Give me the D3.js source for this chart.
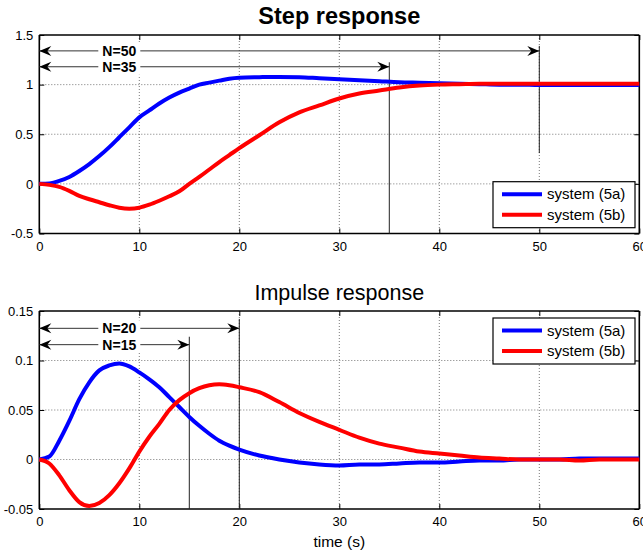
<!DOCTYPE html>
<html><head><meta charset="utf-8">
<script src="https://cdn.jsdelivr.net/npm/d3@7"></script>
<style>body{margin:0;background:#fff}svg{display:block;font-family:"Liberation Sans",Arial,sans-serif}</style>
</head><body><div id="chart"></div>
<script>
// ---- data ----
const stepT = [0,1,2,3,4,5,6,7,8,9,10,11,12,13,14,15,16,17,18,19,20,22,24,26,28,30,32,34,36,38,40,42,44,46,48,50,55,60];
const stepA = [0,0.005,0.03,0.07,0.13,0.2,0.28,0.37,0.47,0.57,0.67,0.74,0.81,0.87,0.92,0.96,1.0,1.02,1.04,1.06,1.07,1.075,1.078,1.075,1.065,1.055,1.045,1.035,1.025,1.02,1.015,1.01,1.005,1.0,1.0,0.995,0.995,0.995];
const stepB = [0,-0.01,-0.03,-0.07,-0.12,-0.155,-0.185,-0.215,-0.24,-0.25,-0.24,-0.21,-0.17,-0.125,-0.075,0.0,0.07,0.145,0.22,0.29,0.36,0.49,0.62,0.72,0.79,0.86,0.91,0.94,0.97,0.99,1.0,1.005,1.01,1.01,1.01,1.01,1.01,1.01];
const impT = [0,1,2,3,4,5,6,7,8,9,10,11,12,13,14,15,16,17,18,19,20,22,24,26,28,30,32,34,36,38,40,42,44,46,48,50,52,54,56,58,60];
const impA = [0,0.003,0.019,0.039,0.061,0.078,0.09,0.095,0.097,0.094,0.088,0.081,0.073,0.063,0.053,0.043,0.034,0.026,0.019,0.014,0.01,0.004,0.0,-0.003,-0.005,-0.006,-0.005,-0.005,-0.004,-0.003,-0.003,-0.002,-0.001,-0.001,0,0,0,0.001,0.001,0.001,0.001];
const impB = [0,-0.004,-0.016,-0.031,-0.043,-0.047,-0.044,-0.036,-0.024,-0.009,0.008,0.023,0.036,0.05,0.06,0.067,0.072,0.075,0.076,0.075,0.073,0.068,0.058,0.047,0.038,0.03,0.022,0.016,0.012,0.008,0.006,0.004,0.002,0.001,0,0,0,-0.001,0,0,0];
const seriesNames = ["system (5a)", "system (5b)"];
const seriesColors = ["#0000ff", "#ff0000"];
const xTicks = [0,10,20,30,40,50,60];
const stepYTicks = [-0.5,0,0.5,1,1.5];
const impYTicks = [-0.05,0,0.05,0.1,0.15];
const stepMarks = [{label:"N=50", n:50, y:1.34, top:1.39, bottom:0.31},{label:"N=35", n:35, y:1.18, top:1.225, bottom:-0.5}];
const impMarks = [{label:"N=20", n:20, y:0.1325, top:0.142, bottom:-0.05},{label:"N=15", n:15, y:0.116, top:0.124, bottom:-0.05}];

const W = 643, H = 554;
const svg = d3.select("#chart").append("svg").attr("width", W).attr("height", H);

function panel(opts){
  const {top, bottom, yDomain, yTicks, t, a, b, title, bold, titleY, titleSize, marks, legendY, xlabel} = opts;
  const x = d3.scaleLinear().domain([0,60]).range([39.3, 639.3]);
  const y = d3.scaleLinear().domain(yDomain).range([bottom, top]);
  const g = svg.append("g");
  // grid
  g.append("g").selectAll("line").data(xTicks.slice(1,-1)).join("line")
    .attr("x1", d=>x(d)).attr("x2", d=>x(d)).attr("y1", top).attr("y2", bottom)
    .attr("stroke","#555").attr("stroke-width",0.8).attr("stroke-dasharray","1,2");
  g.append("g").selectAll("line").data(yTicks.slice(1,-1)).join("line")
    .attr("y1", d=>y(d)).attr("y2", d=>y(d)).attr("x1", x(0)).attr("x2", x(60))
    .attr("stroke","#555").attr("stroke-width",0.8).attr("stroke-dasharray","1,2");
  // axes
  const ax = d3.axisBottom(x).tickValues(xTicks).tickSize(-5).tickPadding(8).tickFormat(d3.format("d"));
  const axT = d3.axisTop(x).tickValues(xTicks).tickSize(-5).tickFormat("");
  const ay = d3.axisLeft(y).tickValues(yTicks).tickSize(-5).tickPadding(6).tickFormat(d=>String(d));
  const ayR = d3.axisRight(y).tickValues(yTicks).tickSize(-5).tickFormat("");
  const gx = g.append("g").attr("transform",`translate(0,${bottom})`).call(ax);
  const gxt = g.append("g").attr("transform",`translate(0,${top})`).call(axT);
  const gy = g.append("g").attr("transform",`translate(${x(0)},0)`).call(ay);
  const gyr = g.append("g").attr("transform",`translate(${x(60)},0)`).call(ayR);
  [gx,gxt,gy,gyr].forEach(s=>{
    s.select(".domain").attr("stroke","#000").attr("stroke-width",1.6);
    s.selectAll(".tick line").attr("stroke","#000").attr("stroke-width",1);
    s.selectAll("text").attr("font-size",13).attr("fill","#000").attr("font-family","Liberation Sans, Arial, sans-serif");
  });
  gx.selectAll(".domain").attr("d", `M${x(0)},0H${x(60)}`);
  gxt.selectAll(".domain").attr("d", `M${x(0)},0H${x(60)}`);
  gy.selectAll(".domain").attr("d", `M0,${top}V${bottom}`);
  gyr.selectAll(".domain").attr("d", `M0,${top}V${bottom}`);
  // annotations
  marks.forEach(m=>{
    g.append("line").attr("x1",x(m.n)).attr("x2",x(m.n)).attr("y1",y(m.top)).attr("y2",y(m.bottom))
      .attr("stroke","#222").attr("stroke-width",1);
    g.append("line").attr("x1",x(0)).attr("x2",x(m.n)).attr("y1",y(m.y)).attr("y2",y(m.y))
      .attr("stroke","#333").attr("stroke-width",1);
    const yy = y(m.y);
    const L = x(0), R = x(m.n);
    g.append("path").attr("d",`M${L},${yy}L${L+12},${yy-5}L${L+8},${yy}L${L+12},${yy+5}Z`).attr("fill","#000");
    g.append("path").attr("d",`M${R},${yy}L${R-12},${yy-5}L${R-8},${yy}L${R-12},${yy+5}Z`).attr("fill","#000");
    g.append("rect").attr("x",x(8)-21).attr("y",yy-8).attr("width",42).attr("height",16).attr("fill","#fff");
    g.append("text").attr("x",x(8)).attr("y",yy+5).attr("text-anchor","middle")
      .attr("font-size",14).attr("font-weight","bold").text(m.label);
  });
  // lines
  const line = d3.line().curve(d3.curveMonotoneX);
  [a,b].forEach((vals,i)=>{
    g.append("path").datum(t.map((tt,k)=>[x(tt), y(vals[k])]))
      .attr("d", line).attr("fill","none").attr("stroke",seriesColors[i]).attr("stroke-width",4)
      .attr("stroke-linejoin","round");
  });
  // legend
  const lg = g.append("g").attr("transform",`translate(493,${legendY})`);
  lg.append("rect").attr("width",142).attr("height",46).attr("fill","#fff").attr("stroke","#000").attr("stroke-width",1.2);
  seriesNames.forEach((nm,i)=>{
    const cy = 12.5 + i*20.5;
    lg.append("line").attr("x1",9).attr("x2",49).attr("y1",cy).attr("y2",cy).attr("stroke",seriesColors[i]).attr("stroke-width",4);
    lg.append("text").attr("x",54).attr("y",cy+5).attr("font-size",15).text(nm);
  });
  // title
  svg.append("text").attr("x", (x(0)+x(60))/2).attr("y", titleY).attr("text-anchor","middle")
    .attr("font-size", titleSize).attr("font-weight", bold ? "bold":"normal").text(title);
  if (xlabel) {
    svg.append("text").attr("x",(x(0)+x(60))/2).attr("y",bottom+38).attr("text-anchor","middle")
      .attr("font-size",15.5).text(xlabel);
  }
}

panel({top:35, bottom:233.5, yDomain:[-0.5,1.5], yTicks:stepYTicks, t:stepT, a:stepA, b:stepB,
  title:"Step response", bold:true, titleY:23.5, titleSize:23.5, marks:stepMarks, legendY:181.7});
panel({top:311, bottom:509, yDomain:[-0.05,0.15], yTicks:impYTicks, t:impT, a:impA, b:impB,
  title:"Impulse response", bold:false, titleY:299.5, titleSize:21.5, marks:impMarks, legendY:318, xlabel:"time (s)"});
</script></body></html>
